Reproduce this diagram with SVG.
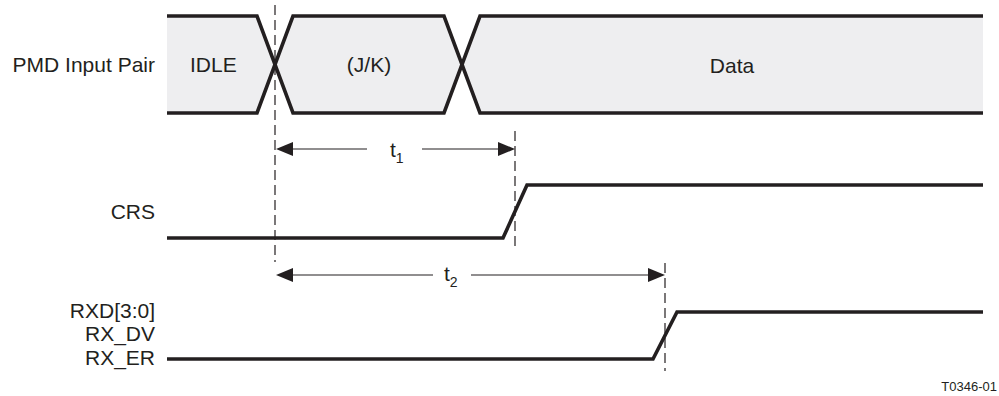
<svg xmlns="http://www.w3.org/2000/svg" width="999" height="396" viewBox="0 0 999 396">
<style>
.sig{fill:none;stroke:#231f20;stroke-width:3.6;stroke-linejoin:miter}
.bus{fill:#eeeef0;stroke:none}
.dash{stroke:#231f20;stroke-width:1.2;stroke-dasharray:10,5;fill:none}
.dim{stroke:#231f20;stroke-width:1.2;fill:none}
.head{fill:#231f20;stroke:none}
.lbl{font-family:"Liberation Sans",Arial,sans-serif;font-size:21px;fill:#231f20}
.sm{font-family:"Liberation Sans",Arial,sans-serif;font-size:13px;fill:#231f20}
</style>
<rect width="999" height="396" fill="#ffffff"/>
<g id="pmd">
<polygon class="bus" points="167,16 257,16 275,65 257,113 167,113"/>
<polygon class="bus" points="275,65 293,16 444,16 462,65 444,113 293,113"/>
<polygon class="bus" points="462,65 480,16 983,16 983,113 480,113"/>
<polyline class="sig" points="167,16 257,16 293,113 444,113 480,16 983,16"/>
<polyline class="sig" points="167,113 257,113 293,16 444,16 480,113 983,113"/>
<text class="lbl" x="155" y="72" text-anchor="end">PMD Input Pair</text>
<text class="lbl" x="190" y="72">IDLE</text>
<text class="lbl" x="369" y="72" text-anchor="middle">(J/K)</text>
<text class="lbl" x="732" y="73" text-anchor="middle">Data</text>
</g>
<g id="crs">
<polyline class="sig" points="167,238 503,238 527,185 983,185"/>
<text class="lbl" x="155" y="219" text-anchor="end">CRS</text>
</g>
<g id="rxd">
<polyline class="sig" points="167,359 653,359 677,312 983,312"/>
<text class="lbl" x="155" y="318" text-anchor="end">RXD[3:0]</text>
<text class="lbl" x="155" y="341" text-anchor="end">RX_DV</text>
<text class="lbl" x="155" y="365" text-anchor="end">RX_ER</text>
</g>
<g id="connectors">
<line class="dash" x1="275" y1="5" x2="275" y2="262"/>
<line class="dash" x1="515" y1="131" x2="515" y2="250"/>
<line class="dash" x1="665" y1="263" x2="665" y2="371"/>
<line class="dim" x1="367" y1="149" x2="290" y2="149"/>
<polygon class="head" points="276,149 293,142 293,156"/>
<line class="dim" x1="422" y1="149" x2="500" y2="149"/>
<polygon class="head" points="515,149 498,142 498,156"/>
<line class="dim" x1="433" y1="275" x2="290" y2="275"/>
<polygon class="head" points="276,275 293,268 293,282"/>
<line class="dim" x1="471" y1="275" x2="650" y2="275"/>
<polygon class="head" points="665,275 648,268 648,282"/>
</g>
<g id="labels">
<text class="lbl" x="390" y="157">t<tspan font-size="14" dy="6">1</tspan></text>
<text class="lbl" x="444" y="281">t<tspan font-size="14" dy="6">2</tspan></text>
<text class="sm" x="997" y="391" text-anchor="end">T0346-01</text>
</g>
</svg>
